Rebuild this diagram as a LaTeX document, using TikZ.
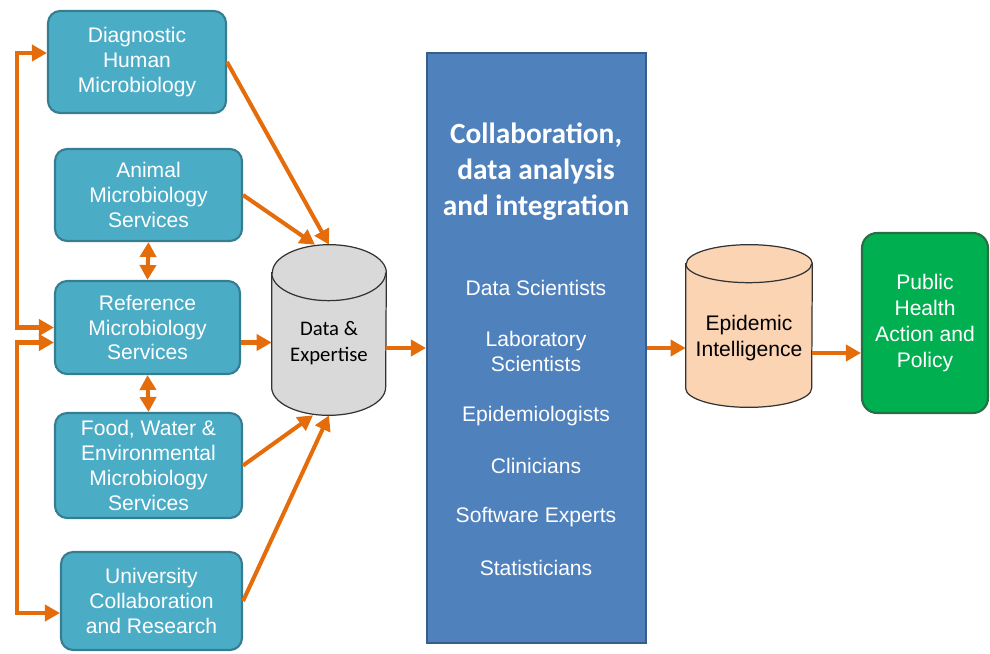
\documentclass[tikz,border=0pt]{standalone}
\usepackage{fontspec}
\setmainfont{Liberation Sans}
\newfontfamily\carlito{Carlito}
\usetikzlibrary{arrows.meta}

\definecolor{tealbox}{HTML}{4BACC6}
\definecolor{tealline}{HTML}{357D91}
\definecolor{bluebox}{HTML}{4F81BD}
\definecolor{blueline}{HTML}{385D8A}
\definecolor{greenbox}{HTML}{00B050}
\definecolor{greenline}{HTML}{2A6E45}
\definecolor{greydb}{HTML}{D9D9D9}
\definecolor{peachdb}{HTML}{FBD4B4}
\definecolor{arrorange}{HTML}{E46C0A}

\begin{document}
\begin{tikzpicture}[x=0.02cm,y=-0.02cm]
\tikzstyle{lab} = [draw=tealline, fill=tealbox, rounded corners=0.24cm, line width=1.2pt, text=white, align=center, inner sep=0, font=\fontsize{12}{14.2}\selectfont]
\tikzstyle{dbline} = [draw=black!80, line width=0.7pt]
\tikzstyle{arr} = [draw=arrorange, line width=2.3pt, -{Triangle[length=0.3cm,width=0.32cm]}]
\tikzstyle{dblarr} = [arr, {Triangle[length=0.3cm,width=0.32cm]}-{Triangle[length=0.3cm,width=0.32cm]}]

\useasboundingbox (0,0) rectangle (990,653);

% Laboratori a sinistra
\node[lab, minimum width=3.56cm, minimum height=2.04cm] (diag) at (137,62) {Diagnostic\\Human\\Microbiology};
\node[lab, minimum width=3.74cm, minimum height=1.84cm] (anim) at (148.5,195) {Animal\\Microbiology\\Services};
\node[lab, minimum width=3.70cm, minimum height=1.86cm] (ref) at (147.5,327.5) {Reference\\Microbiology\\Services};
\node[lab, minimum width=3.74cm, minimum height=2.10cm] (food) at (148.5,465.5) {Food, Water \&\\Environmental\\Microbiology\\Services};
\node[lab, minimum width=3.62cm, minimum height=1.96cm] (univ) at (151.5,601) {University\\Collaboration\\and Research};

% Cilindri (ingombro come nodo, forma disegnata sopra)
\node[minimum width=2.28cm, minimum height=3.4cm] (data) at (329,330) {};
\node[minimum width=2.52cm, minimum height=3.24cm] (epi) at (749,326) {};
\foreach \n/\rx/\ry/\col in {data/1.14cm/0.56cm/greydb, epi/1.26cm/0.38cm/peachdb} {
  \draw[dbline, fill=\col] ([yshift=-\ry]\n.north west) -- ([yshift=\ry]\n.south west)
    arc[start angle=180, end angle=360, x radius=\rx, y radius=\ry]
    -- ([yshift=-\ry]\n.north east)
    arc[start angle=0, end angle=180, x radius=\rx, y radius=\ry] -- cycle;
  \draw[dbline] ([yshift=-\ry]\n.north west) arc[start angle=180, end angle=360, x radius=\rx, y radius=\ry];
}
\node[align=center, font=\carlito\fontsize{11.8}{14.7}\selectfont] (datatxt) at (329,343) {Data \&\\Expertise};
\node[align=center, font=\fontsize{12}{14.7}\selectfont] (epitxt) at (749,338) {Epidemic\\Intelligence};

% Riquadri
\node[draw=blueline, fill=bluebox, line width=1.2pt, minimum width=4.38cm, minimum height=11.8cm] (big) at (536.5,348) {};
\node[draw=greenline, fill=greenbox, rounded corners=0.3cm, line width=1.2pt, minimum width=2.52cm, minimum height=3.6cm, text=white, align=center, font=\fontsize{12}{14.7}\selectfont] (pub) at (925,323) {Public\\Health\\Action and\\Policy};

% Testo nel riquadro blu
\node[text=white, align=center, font=\carlito\bfseries\fontsize{16.7}{20.4}\selectfont] (title) at (536,172) {Collaboration,\\data analysis\\and integration};
\foreach \txt/\y [count=\i] in {Data Scientists/288, Laboratory\\Scientists/351.5, Epidemiologists/416, Clinicians/466, Software Experts/517, Statisticians/568} {
  \node[text=white, align=center, font=\fontsize{12}{14.7}\selectfont] (role\i) at (536,\y) {\txt};
}

% Frecce
\draw[dblarr] (ref.west) -- ++(-37,0) |- ([yshift=0.18cm]diag.west);
\draw[dblarr] ([yshift=-0.3cm]ref.west) -- ++(-37,0) |- ([yshift=-0.24cm]univ.west);
\draw[dblarr] (anim.south) -- (ref.north);
\draw[dblarr] (ref.south) -- (food.north);

\draw[arr] (diag.east) -- (data.north);
\draw[arr] (anim.east) -- ([xshift=-0.28cm]data.north);
\coordinate (refout) at ([yshift=-0.3cm]ref.east);
\draw[arr] (refout) -- (refout -| data.west);
\draw[arr] (food.east) -- ([xshift=-0.32cm]data.south);
\draw[arr] (univ.east) -- (data.south);

\draw[arr] (data.east |- big.west) -- (big.west);
\draw[arr] (big.east) -- (big.east -| epi.west);
\coordinate (epiout) at ([yshift=-0.54cm]epi.east);
\draw[arr] (epiout) -- (epiout -| pub.west);

\end{tikzpicture}
\end{document}
